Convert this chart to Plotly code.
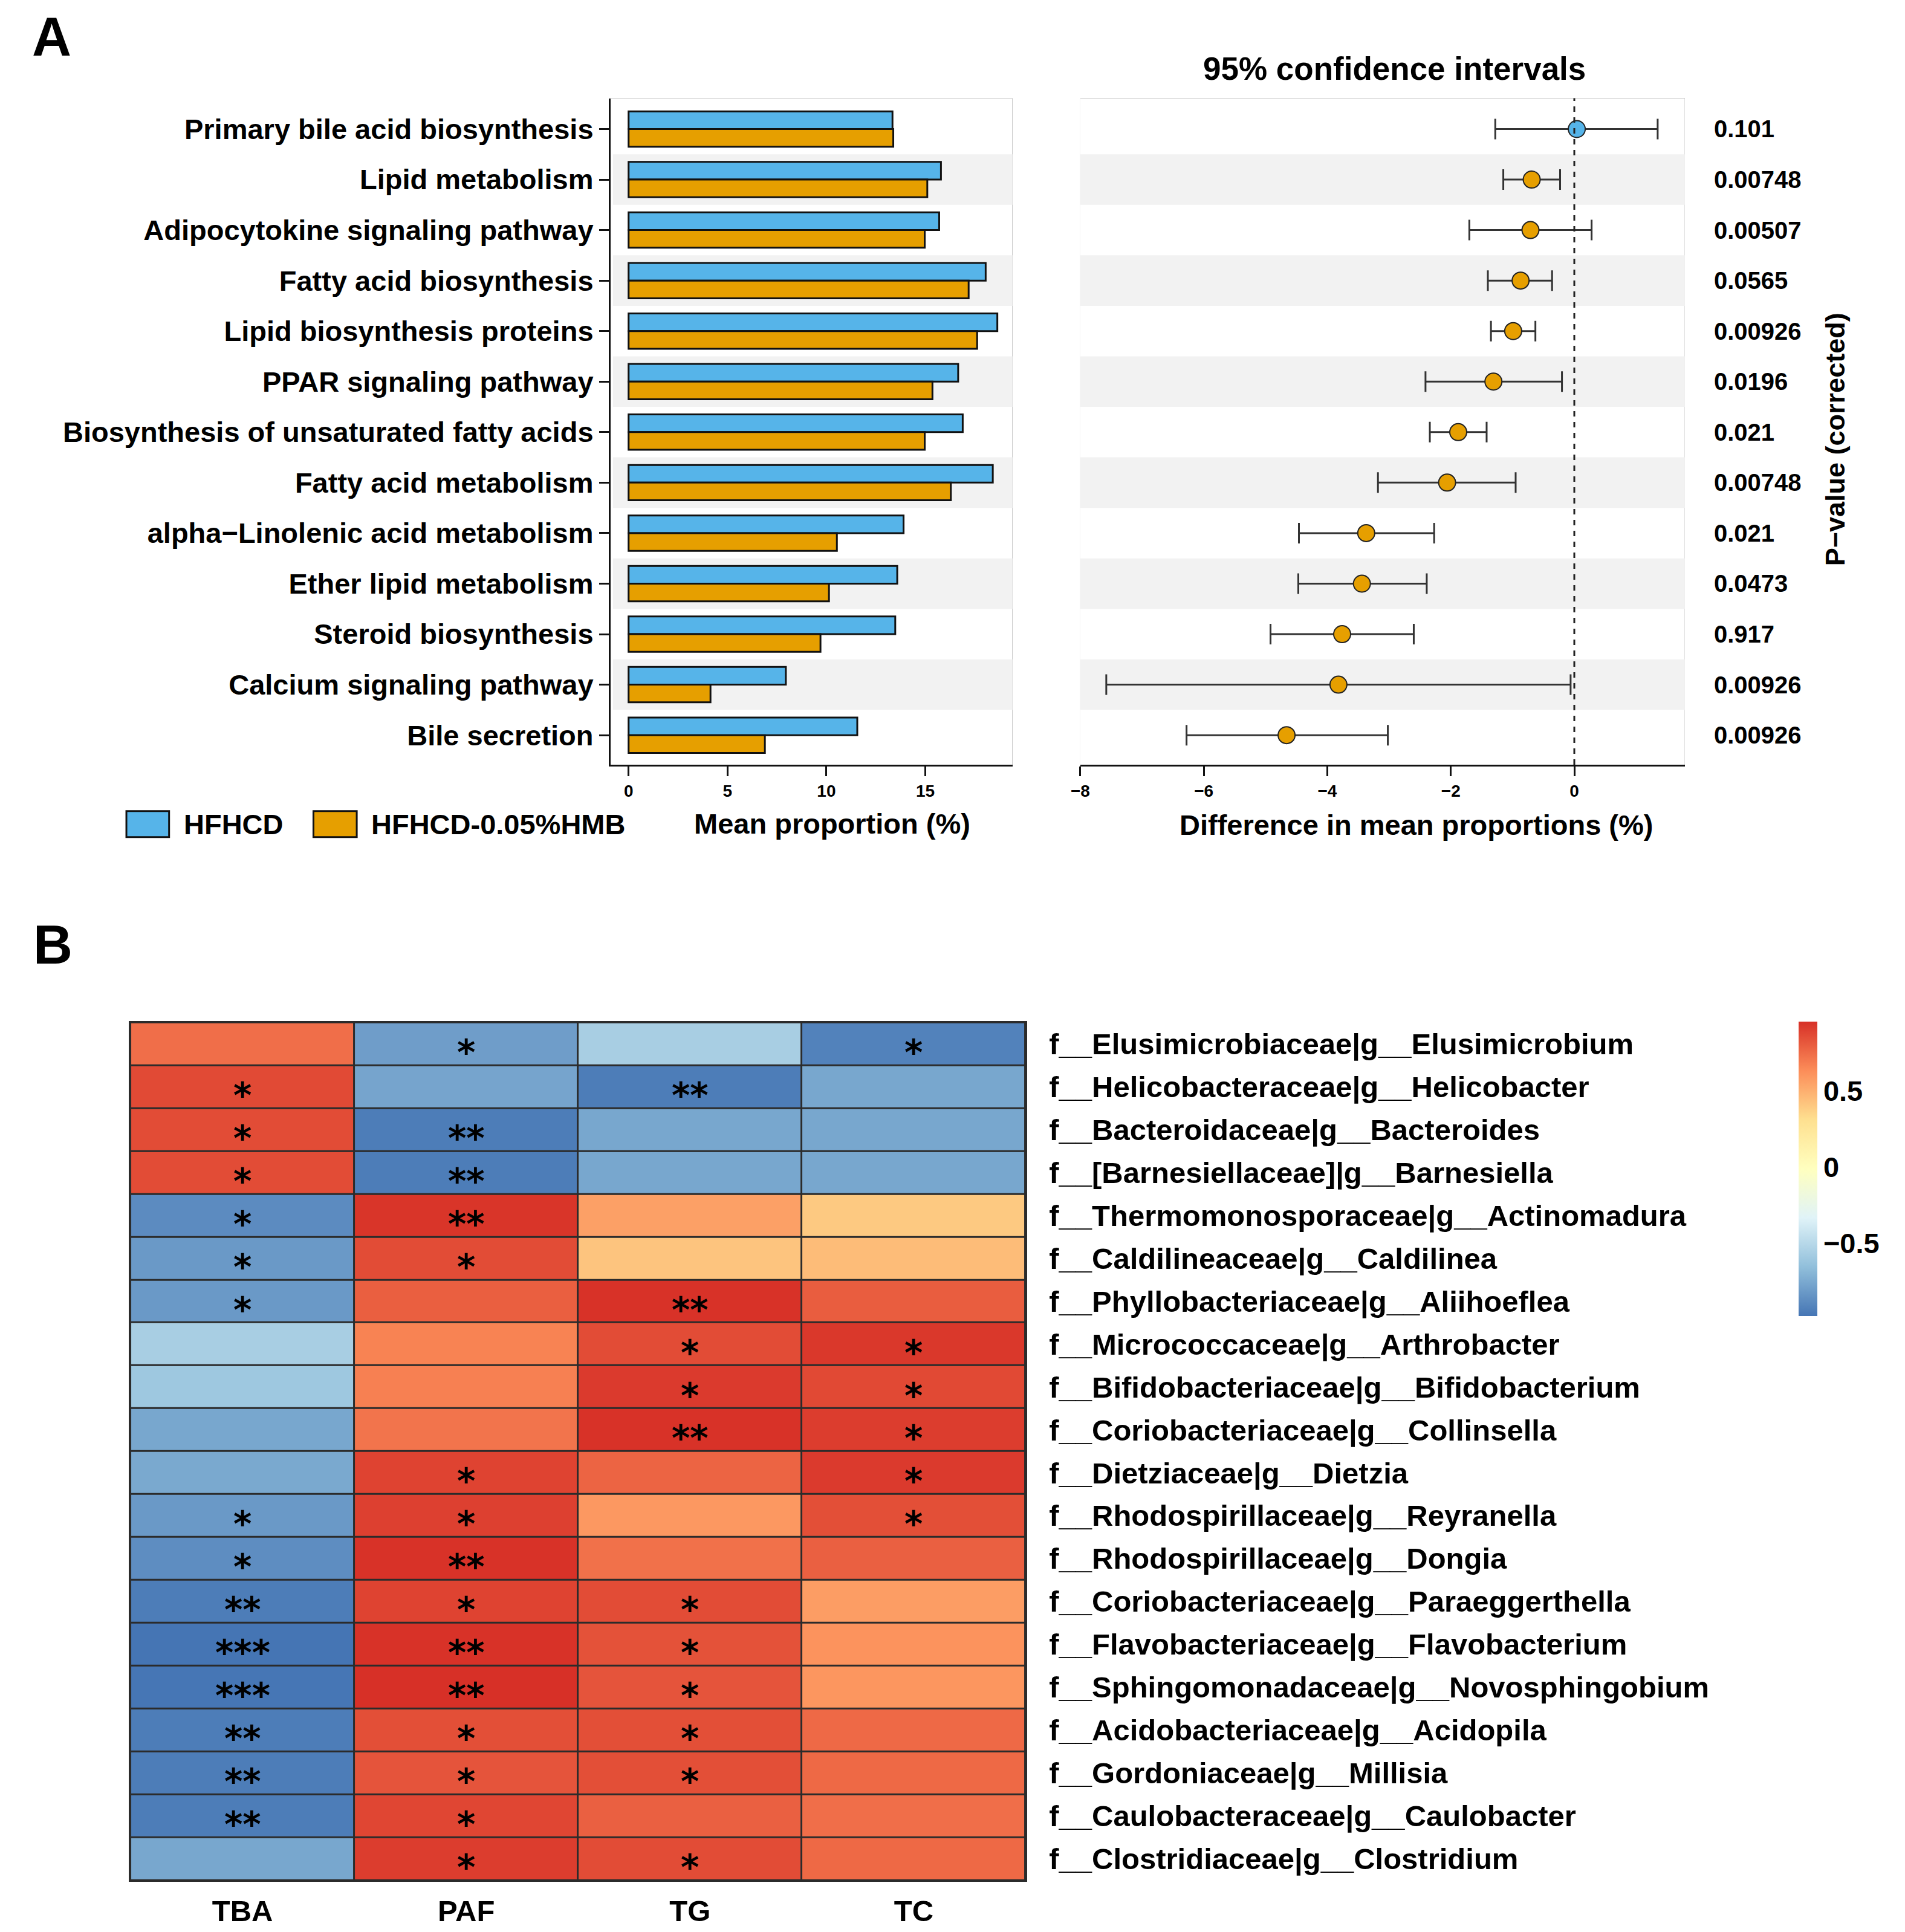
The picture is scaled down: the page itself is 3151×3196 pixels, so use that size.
import plotly.graph_objects as go

# page body has an 8px margin: keep the figure inside the window
OFF = 8
W, H = 3151 - 2 * OFF, 3196 - 2 * OFF
FONT = "Liberation Sans, Arial, sans-serif"
STAR_FONT = "DejaVu Sans"

# ---------------- Panel A data ----------------
pathways = [
    "Primary bile acid biosynthesis",
    "Lipid metabolism",
    "Adipocytokine signaling pathway",
    "Fatty acid biosynthesis",
    "Lipid biosynthesis proteins",
    "PPAR signaling pathway",
    "Biosynthesis of unsaturated fatty acids",
    "Fatty acid metabolism",
    "alpha\u2212Linolenic acid metabolism",
    "Ether lipid metabolism",
    "Steroid biosynthesis",
    "Calcium signaling pathway",
    "Bile secretion",
]
hfhcd = [13.34, 15.79, 15.70, 18.05, 18.64, 16.66, 16.89, 18.41, 13.90, 13.58, 13.48, 7.95, 11.56]
hmb = [13.38, 15.10, 14.97, 17.19, 17.62, 15.36, 14.97, 16.29, 10.53, 10.13, 9.70, 4.14, 6.89]
diff = [0.04, -0.69, -0.71, -0.87, -0.99, -1.31, -1.88, -2.06, -3.37, -3.44, -3.76, -3.82, -4.66]
ci_low = [-1.28, -1.15, -1.70, -1.40, -1.35, -2.41, -2.34, -3.18, -4.46, -4.47, -4.92, -7.58, -6.28]
ci_high = [1.35, -0.23, 0.28, -0.36, -0.63, -0.20, -1.42, -0.95, -2.27, -2.39, -2.60, -0.06, -3.02]
pvals = ["0.101", "0.00748", "0.00507", "0.0565", "0.00926", "0.0196", "0.021",
         "0.00748", "0.021", "0.0473", "0.917", "0.00926", "0.00926"]
group_names = ["HFHCD", "HFHCD-0.05%HMB"]
group_colors = ["#56B4E9", "#E69F00"]
bar_ticks = [0, 5, 10, 15]
ci_ticks = [-8, -6, -4, -2, 0]

# ---------------- Panel B data ----------------
taxa = [
    "f__Elusimicrobiaceae|g__Elusimicrobium",
    "f__Helicobacteraceae|g__Helicobacter",
    "f__Bacteroidaceae|g__Bacteroides",
    "f__[Barnesiellaceae]|g__Barnesiella",
    "f__Thermomonosporaceae|g__Actinomadura",
    "f__Caldilineaceae|g__Caldilinea",
    "f__Phyllobacteriaceae|g__Aliihoeflea",
    "f__Micrococcaceae|g__Arthrobacter",
    "f__Bifidobacteriaceae|g__Bifidobacterium",
    "f__Coriobacteriaceae|g__Collinsella",
    "f__Dietziaceae|g__Dietzia",
    "f__Rhodospirillaceae|g__Reyranella",
    "f__Rhodospirillaceae|g__Dongia",
    "f__Coriobacteriaceae|g__Paraeggerthella",
    "f__Flavobacteriaceae|g__Flavobacterium",
    "f__Sphingomonadaceae|g__Novosphingobium",
    "f__Acidobacteriaceae|g__Acidopila",
    "f__Gordoniaceae|g__Millisia",
    "f__Caulobacteraceae|g__Caulobacter",
    "f__Clostridiaceae|g__Clostridium",
]
indices = ["TBA", "PAF", "TG", "TC"]
corr = [
    [0.74, -0.80, -0.56, -0.92],
    [0.865, -0.77, -0.94, -0.76],
    [0.86, -0.94, -0.76, -0.76],
    [0.86, -0.94, -0.76, -0.76],
    [-0.88, 0.94, 0.56, 0.40],
    [-0.82, 0.86, 0.42, 0.45],
    [-0.82, 0.795, 0.95, 0.80],
    [-0.56, 0.67, 0.86, 0.93],
    [-0.60, 0.68, 0.92, 0.87],
    [-0.76, 0.72, 0.95, 0.91],
    [-0.75, 0.89, 0.776, 0.92],
    [-0.82, 0.90, 0.59, 0.85],
    [-0.87, 0.95, 0.73, 0.79],
    [-0.94, 0.89, 0.86, 0.57],
    [-0.976, 0.95, 0.84, 0.61],
    [-0.97, 0.956, 0.83, 0.60],
    [-0.94, 0.85, 0.85, 0.757],
    [-0.94, 0.83, 0.85, 0.76],
    [-0.94, 0.88, 0.79, 0.74],
    [-0.76, 0.91, 0.86, 0.76],
]
stars = [
    ["", "*", "", "*"],
    ["*", "", "**", ""],
    ["*", "**", "", ""],
    ["*", "**", "", ""],
    ["*", "**", "", ""],
    ["*", "*", "", ""],
    ["*", "", "**", ""],
    ["", "", "*", "*"],
    ["", "", "*", "*"],
    ["", "", "**", "*"],
    ["", "*", "", "*"],
    ["*", "*", "", "*"],
    ["*", "**", "", ""],
    ["**", "*", "*", ""],
    ["***", "**", "*", ""],
    ["***", "**", "*", ""],
    ["**", "*", "*", ""],
    ["**", "*", "*", ""],
    ["**", "*", "", ""],
    ["", "*", "*", ""],
]
cbar_ticks = [-0.5, 0, 0.5]
heat_colors = ["#4575B4", "#91BFDB", "#E0F3F8", "#FFFFBF", "#FEE090", "#FC8D59", "#D73027"]

# ---------------- layout geometry (reference pixels -> paper) ----------------
def px(x):
    return (x - OFF) / W

def py(y):
    return 1 - (y - OFF) / H

BORDER = "#2b2b2b"
nP = len(pathways)
LX = -8  # small horizontal correction for the left-hand blocks

fig = go.Figure()

# bars
for vals, name, col in zip([hfhcd, hmb], group_names, group_colors):
    fig.add_trace(go.Bar(
        y=pathways, x=vals, orientation="h", name=name,
        marker=dict(color=col, line=dict(color="#111111", width=3)),
        xaxis="x", yaxis="y", showlegend=False,
    ))

# CI points
pt_colors = [group_colors[0] if d > 0 else group_colors[1] for d in diff]
fig.add_trace(go.Scatter(
    x=diff, y=pathways, mode="markers",
    marker=dict(size=28, color=pt_colors, line=dict(color="#222222", width=2)),
    error_x=dict(type="data", symmetric=False,
                 array=[h - d for h, d in zip(ci_high, diff)],
                 arrayminus=[d - l for d, l in zip(diff, ci_low)],
                 color="#333333", thickness=3, width=17),
    xaxis="x2", yaxis="y2", showlegend=False,
))

# heatmap
cs = [[i / (len(heat_colors) - 1), c] for i, c in enumerate(heat_colors)]
fig.add_trace(go.Heatmap(
    z=corr, x=indices, y=taxa, colorscale=cs, xgap=3, ygap=3,
    xaxis="x3", yaxis="y3",
    colorbar=dict(x=px(2974), xanchor="left", xpad=0, ypad=0,
                  y=py((1695 + 2184) / 2), yanchor="middle",
                  len=489 / H, lenmode="fraction", thickness=31,
                  outlinewidth=0, tickvals=cbar_ticks, ticks="",
                  tickfont=dict(size=47, family=FONT, weight="bold", color="black")),
    hoverinfo="skip",
))

shapes = []
# white backgrounds for panel A subplots (plot bg is dark for heatmap borders)
for xr, yr in [("x", "y"), ("x2", "y2")]:
    shapes.append(dict(type="rect", xref=f"{xr} domain", yref=f"{yr} domain",
                       x0=0, x1=1, y0=0, y1=1, fillcolor="white",
                       line=dict(width=0), layer="below"))
# alternating grey bands
for i in range(nP):
    if i % 2 == 1:
        shapes.append(dict(type="rect", xref="x domain", yref="y", x0=0.006, x1=1,
                           y0=i - 0.5, y1=i + 0.5, fillcolor="#F2F2F2",
                           line=dict(width=0), layer="below"))
        shapes.append(dict(type="rect", xref="x2 domain", yref="y2", x0=0, x1=1,
                           y0=i - 0.5, y1=i + 0.5, fillcolor="#F2F2F2",
                           line=dict(width=0), layer="below"))
# zero line
shapes.append(dict(type="line", xref="x2", yref="y2 domain", x0=0, x1=0, y0=0, y1=1,
                   line=dict(color="#222222", width=3, dash="dash"), layer="above"))
# legend swatches
for (x0, x1), col in zip([(202, 273), (513, 585)], group_colors):
    shapes.append(dict(type="rect", xref="paper", yref="paper",
                       x0=px(x0 + LX), x1=px(x1 + LX), y0=py(1389), y1=py(1346),
                       fillcolor=col, line=dict(color="#111111", width=3)))

ann = []
bold = dict(family=FONT, weight="bold", color="black")

def label(x, y, text, size, **kw):
    d = dict(x=px(x), y=py(y), xref="paper", yref="paper", text=text,
             xanchor="center", yanchor="middle", showarrow=False,
             font=dict(size=size, **bold))
    d.update(kw)
    ann.append(d)

for i, p in enumerate(pvals):
    ann.append(dict(x=px(2831), xref="paper", y=pathways[i], yref="y2", text=p,
                    xanchor="left", yanchor="middle", showarrow=False,
                    font=dict(size=40, **bold)))
for tx, x in zip(group_names, [295, 607]):
    label(x + LX, 1368, tx, 47, xanchor="left")
label(1375 + LX, 1367, "Mean proportion (%)", 47)
label(2338, 1369, "Difference in mean proportions (%)", 47)
label(2302, 114, "95% confidence intervals", 53)
label(3035, 729, "P\u2212value (corrected)", 45, textangle=-90)
label(86 + 2 * LX, 61, "A", 90)
label(88 + 2 * LX, 1568, "B", 90)
for i, row in enumerate(stars):
    for j, s in enumerate(row):
        if s:
            ann.append(dict(x=indices[j], y=taxa[i], xref="x3", yref="y3", text=s,
                            showarrow=False, yshift=-14, xanchor="center", yanchor="middle",
                            font=dict(size=58, family=STAR_FONT, weight="bold",
                                      color="black")))

yA_dom = [py(1269), py(163)]
yrange = [nP - 1 + 0.585, -0.61]

fig.update_layout(
    width=W, height=H, margin=dict(l=0, r=0, t=0, b=0),
    paper_bgcolor="white", plot_bgcolor=BORDER,
    font=dict(family=FONT, color="black", weight="bold"),
    barmode="group", bargap=0.3, bargroupgap=0,
    shapes=shapes, annotations=ann,
    xaxis=dict(domain=[px(1007 + LX), px(1675 + LX)], anchor="y", range=[-0.91, 19.4],
               showline=True, linecolor="#111111", linewidth=3, ticks="outside",
               ticklen=16, tickwidth=3, tickcolor="#111111", tickvals=bar_ticks,
               tickfont=dict(size=28, **bold), showgrid=False, zeroline=False),
    yaxis=dict(domain=yA_dom, anchor="x", type="category",
               categoryorder="array", categoryarray=pathways, range=yrange,
               showline=True, linecolor="#111111", linewidth=3, ticks="outside",
               ticklen=16, tickwidth=3, tickcolor="#111111",
               tickfont=dict(size=47, **bold), showgrid=False, zeroline=False),
    xaxis2=dict(domain=[px(1780), px(2785)], anchor="y2", range=[-8, 1.79],
                showline=True, linecolor="#111111", linewidth=3, ticks="outside",
                ticklen=16, tickwidth=3, tickcolor="#111111", tickvals=ci_ticks,
                tickfont=dict(size=28, **bold), showgrid=False, zeroline=False),
    yaxis2=dict(domain=yA_dom, anchor="x2", type="category",
                categoryorder="array", categoryarray=pathways, range=yrange,
                showline=False, ticks="", showticklabels=False,
                showgrid=False, zeroline=False),
    xaxis3=dict(domain=[px(209 + LX), px(1697 + LX)], anchor="y3", type="category",
                categoryorder="array", categoryarray=indices,
                range=[-0.5, len(indices) - 0.5],
                showline=True, mirror=True, linecolor=BORDER, linewidth=3,
                ticks="", ticklabelstandoff=6, tickfont=dict(size=49, **bold),
                showgrid=False, zeroline=False),
    yaxis3=dict(domain=[py(3120), py(1697)], anchor="x3", type="category",
                categoryorder="array", categoryarray=taxa,
                range=[len(taxa) - 0.5, -0.5], side="right",
                showline=True, mirror=True, linecolor=BORDER, linewidth=3,
                ticks="", ticklabelstandoff=26, tickfont=dict(size=49, **bold),
                showgrid=False, zeroline=False),
)

fig.write_html("out.html")
